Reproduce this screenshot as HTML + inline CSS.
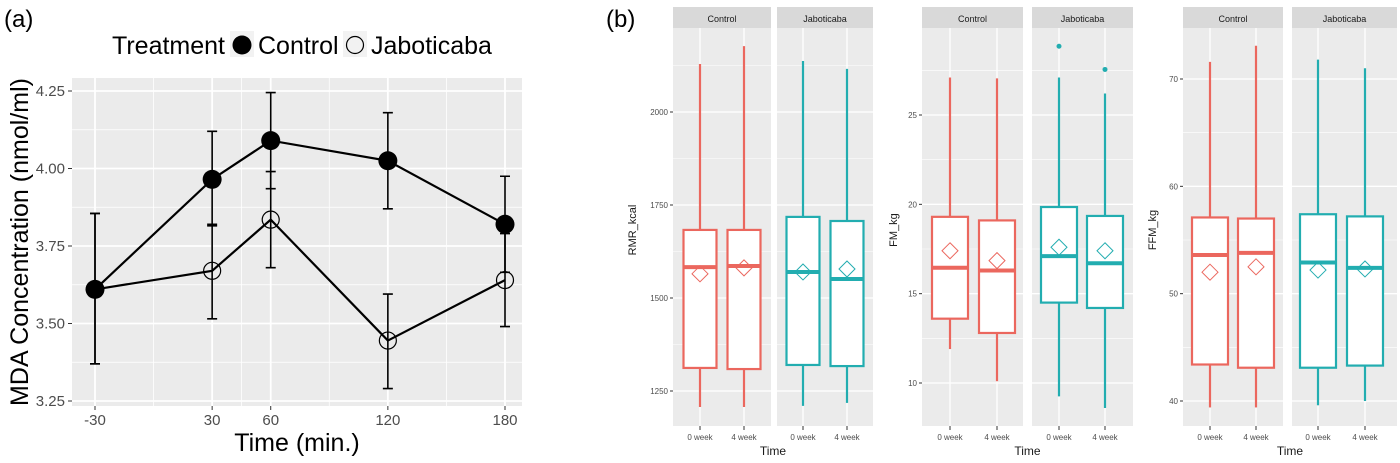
<!DOCTYPE html>
<html><head><meta charset="utf-8"><style>
body{margin:0;background:#fff}
svg{display:block;font-family:"Liberation Sans",sans-serif}
</style></head><body>
<svg id="s" width="1400" height="463" viewBox="0 0 1400 463"></svg>
<script>
// ---- Panel (a) data ----
const times=[-30,30,60,120,180];
const xTicks=[-30,30,60,120,180];
const yTicksA=[3.25,3.50,3.75,4.00,4.25];
const controlMean=[3.61,3.965,4.09,4.025,3.82];
const controlLo=[3.37,3.815,3.935,3.87,3.665];
const controlHi=[3.855,4.12,4.245,4.18,3.975];
const jabMean=[3.61,3.67,3.835,3.445,3.64];
const jabLo=[3.37,3.515,3.68,3.29,3.49];
const jabHi=[3.855,3.82,3.99,3.595,3.79];
// ---- Panel (b) data: order [Control 0 week, Control 4 week, Jaboticaba 0 week, Jaboticaba 4 week]
const groups=["0 week","4 week","0 week","4 week"];
const rmrLow=[1207,1207,1210,1218],rmrQ1=[1312,1309,1320,1317],rmrMed=[1583,1586,1570,1551],rmrQ3=[1683,1683,1718,1707],rmrHigh=[2129,2177,2137,2116],rmrMean=[1565,1581,1570,1578],rmrOut=[[],[],[],[]];
const fmLow=[11.9,10.1,9.25,8.6],fmQ1=[13.6,12.8,14.5,14.2],fmMed=[16.45,16.3,17.1,16.7],fmQ3=[19.3,19.1,19.85,19.35],fmHigh=[27.1,27.05,27.1,26.2],fmMean=[17.4,16.85,17.6,17.4],fmOut=[[],[],[28.85],[27.55]];
const ffmLow=[39.4,39.4,39.6,40.0],ffmQ1=[43.4,43.1,43.1,43.3],ffmMed=[53.6,53.8,52.9,52.4],ffmQ3=[57.1,57.0,57.4,57.2],ffmHigh=[71.6,73.1,71.8,71.0],ffmMean=[52.0,52.5,52.2,52.3],ffmOut=[[],[],[],[]];
const rmrTicks=[1250,1500,1750,2000],fmTicks=[10,15,20,25],ffmTicks=[40,50,60,70];

const S=document.getElementById('s');const NS="http://www.w3.org/2000/svg";
function E(t,a,p){const e=document.createElementNS(NS,t);for(const k in a)e.setAttribute(k,a[k]);(p||S).appendChild(e);return e;}
function T(x,y,s,a,p){const e=E('text',Object.assign({x:x,y:y},a),p);e.textContent=s;return e;}

// ===== Panel a =====
const ax=v=>95+(v+30)*(410/210), ay=v=>401-(v-3.25)*310;
const ga=E('g',{});
let t=T(4,27,"(a)",{'font-size':24},ga);
const bg=E('rect',{x:72,y:78,width:450,height:328,fill:'#ebebeb'},ga);
[0,45,90,150].forEach(v=>E('line',{x1:ax(v),x2:ax(v),y1:78,y2:406,stroke:'#fff','stroke-width':0.8},ga));
[3.375,3.625,3.875,4.125].forEach(v=>E('line',{x1:72,x2:522,y1:ay(v),y2:ay(v),stroke:'#fff','stroke-width':0.8},ga));
xTicks.forEach(v=>{E('line',{x1:ax(v),x2:ax(v),y1:78,y2:406,stroke:'#fff','stroke-width':1.8},ga);E('line',{x1:ax(v),x2:ax(v),y1:406,y2:410,stroke:'#333'},ga);
 const l=T(ax(v),425,String(v),{'font-size':15,fill:'#4d4d4d','text-anchor':'middle'},ga);});
yTicksA.forEach(v=>{E('line',{x1:72,x2:522,y1:ay(v),y2:ay(v),stroke:'#fff','stroke-width':1.8},ga);E('line',{x1:68,x2:72,y1:ay(v),y2:ay(v),stroke:'#333'},ga);
 const l=T(65,ay(v)+5,v.toFixed(2),{'font-size':15,fill:'#4d4d4d','text-anchor':'end'},ga);});
t=T(297,451,"Time (min.)",{'font-size':25,'text-anchor':'middle'},ga);
t=T(0,0,"MDA Concentration (nmol/ml)",{'font-size':25,'text-anchor':'middle',transform:'translate(28,242) rotate(-90)'},ga);
function series(m,lo,hi,filled,name){
 const g=E('g',{},ga);
 E('polyline',{points:times.map((v,i)=>ax(v)+','+ay(m[i])).join(' '),fill:'none',stroke:'#000','stroke-width':2.2},g);
 times.forEach((v,i)=>{const x=ax(v);E('path',{d:`M${x-5},${ay(lo[i])}h10M${x-5},${ay(hi[i])}h10M${x},${ay(lo[i])}V${ay(hi[i])}`,stroke:'#000','stroke-width':1.6,fill:'none'},g);
  const c=E('circle',{cx:x,cy:ay(m[i]),r:filled?9.5:8.5,fill:filled?'#000':'none',stroke:'#000','stroke-width':filled?0:1.2},g);});
}
series(jabMean,jabLo,jabHi,false,'jaboticaba');
series(controlMean,controlLo,controlHi,true,'control');
const lg=E('g',{},ga);
T(112,54,"Treatment",{'font-size':25},lg);
E('rect',{x:230,y:31,width:24,height:26,fill:'#f2f2f2'},lg);let c=E('circle',{cx:242,cy:45,r:9.5,fill:'#000'},lg);
T(258,54,"Control",{'font-size':25},lg);
E('rect',{x:343,y:31,width:24,height:26,fill:'#f2f2f2'},lg);c=E('circle',{cx:355,cy:45,r:8.5,fill:'none',stroke:'#000','stroke-width':1.2},lg);
T(371,54,"Jaboticaba",{'font-size':25},lg);

// ===== Panel b =====
t=T(606,27,"(b)",{'font-size':24});
const RED='#eb675e',TEAL='#22adb0';
function facetPlot(o){
 const g=E('g',{});
 const y=v=>o.p0+(v-o.v0)*(o.p1-o.p0)/(o.v1-o.v0);
 const step=o.ticks[1]-o.ticks[0];
 o.facets.forEach((f,fi)=>{
  E('rect',{x:f[0],y:28,width:f[1]-f[0],height:398,fill:'#ebebeb'},g);
  const st=E('rect',{x:f[0],y:7,width:f[1]-f[0],height:21,fill:'#d9d9d9'},g);
  T((f[0]+f[1])/2,22,fi?"Jaboticaba":"Control",{'font-size':9,fill:'#1a1a1a','text-anchor':'middle'},g);
  o.ticks.forEach(v=>{E('line',{x1:f[0],x2:f[1],y1:y(v),y2:y(v),stroke:'#fff','stroke-width':1.3},g);const m=y(v+step/2);if(m>28)E('line',{x1:f[0],x2:f[1],y1:m,y2:m,stroke:'#fff','stroke-width':0.6},g);});
  const m0=y(o.ticks[0]-step/2);if(m0<426)E('line',{x1:f[0],x2:f[1],y1:m0,y2:m0,stroke:'#fff','stroke-width':0.6},g);
 });
 o.ticks.forEach(v=>{E('line',{x1:o.facets[0][0]-3,x2:o.facets[0][0],y1:y(v),y2:y(v),stroke:'#333'},g);T(o.facets[0][0]-5,y(v)+3,String(v),{'font-size':8,fill:'#4d4d4d','text-anchor':'end'},g);});
 const hw=o.bw/2;
 o.xs.forEach((x,i)=>{
  const col=i<2?RED:TEAL;
  E('line',{x1:x,x2:x,y1:28,y2:426,stroke:'#fff','stroke-width':1.3},g);
  E('line',{x1:x,x2:x,y1:426,y2:430,stroke:'#333'},g);
  T(x,440,groups[i],{'font-size':8,fill:'#4d4d4d','text-anchor':'middle'},g);
  const b=E('g',{},g);
  E('line',{x1:x,x2:x,y1:y(o.high[i]),y2:y(o.q3[i]),stroke:col,'stroke-width':2.2},b);
  E('line',{x1:x,x2:x,y1:y(o.q1[i]),y2:y(o.low[i]),stroke:col,'stroke-width':2.2},b);
  E('rect',{x:x-hw,y:y(o.q3[i]),width:o.bw,height:y(o.q1[i])-y(o.q3[i]),fill:'#fff',stroke:col,'stroke-width':2.2},b);
  E('line',{x1:x-hw,x2:x+hw,y1:y(o.med[i]),y2:y(o.med[i]),stroke:col,'stroke-width':4},b);
  const my=y(o.mean[i]);E('path',{d:`M${x},${my-8}L${x+8},${my}L${x},${my+8}L${x-8},${my}Z`,fill:'none',stroke:col,'stroke-width':1},b);
  o.out[i].forEach(v=>E('circle',{cx:x,cy:y(v),r:2.5,fill:col},b));
 });
 t=T(0,0,o.ylab,{'font-size':11,fill:'#1a1a1a','text-anchor':'middle',transform:`translate(${o.ylx},230) rotate(-90)`},g);
 t=T((o.facets[0][0]+o.facets[1][1])/2,455,"Time",{'font-size':12,fill:'#1a1a1a','text-anchor':'middle'},g);
}
facetPlot({name:'rmr',facets:[[673,771],[777,873]],xs:[700,744,803,847],bw:33,v0:2000,p0:112,v1:1250,p1:391,ticks:rmrTicks,low:rmrLow,q1:rmrQ1,med:rmrMed,q3:rmrQ3,high:rmrHigh,mean:rmrMean,out:rmrOut,ylab:'RMR_kcal',ylx:636});
facetPlot({name:'fm',facets:[[922,1023],[1032,1133]],xs:[950,997,1059,1105],bw:36,v0:25,p0:115,v1:10,p1:383,ticks:fmTicks,low:fmLow,q1:fmQ1,med:fmMed,q3:fmQ3,high:fmHigh,mean:fmMean,out:fmOut,ylab:'FM_kg',ylx:897});
facetPlot({name:'ffm',facets:[[1183,1283],[1292,1397]],xs:[1210,1256,1318,1365],bw:36,v0:70,p0:79,v1:40,p1:401,ticks:ffmTicks,low:ffmLow,q1:ffmQ1,med:ffmMed,q3:ffmQ3,high:ffmHigh,mean:ffmMean,out:ffmOut,ylab:'FFM_kg',ylx:1156});
</script>
</body></html>
